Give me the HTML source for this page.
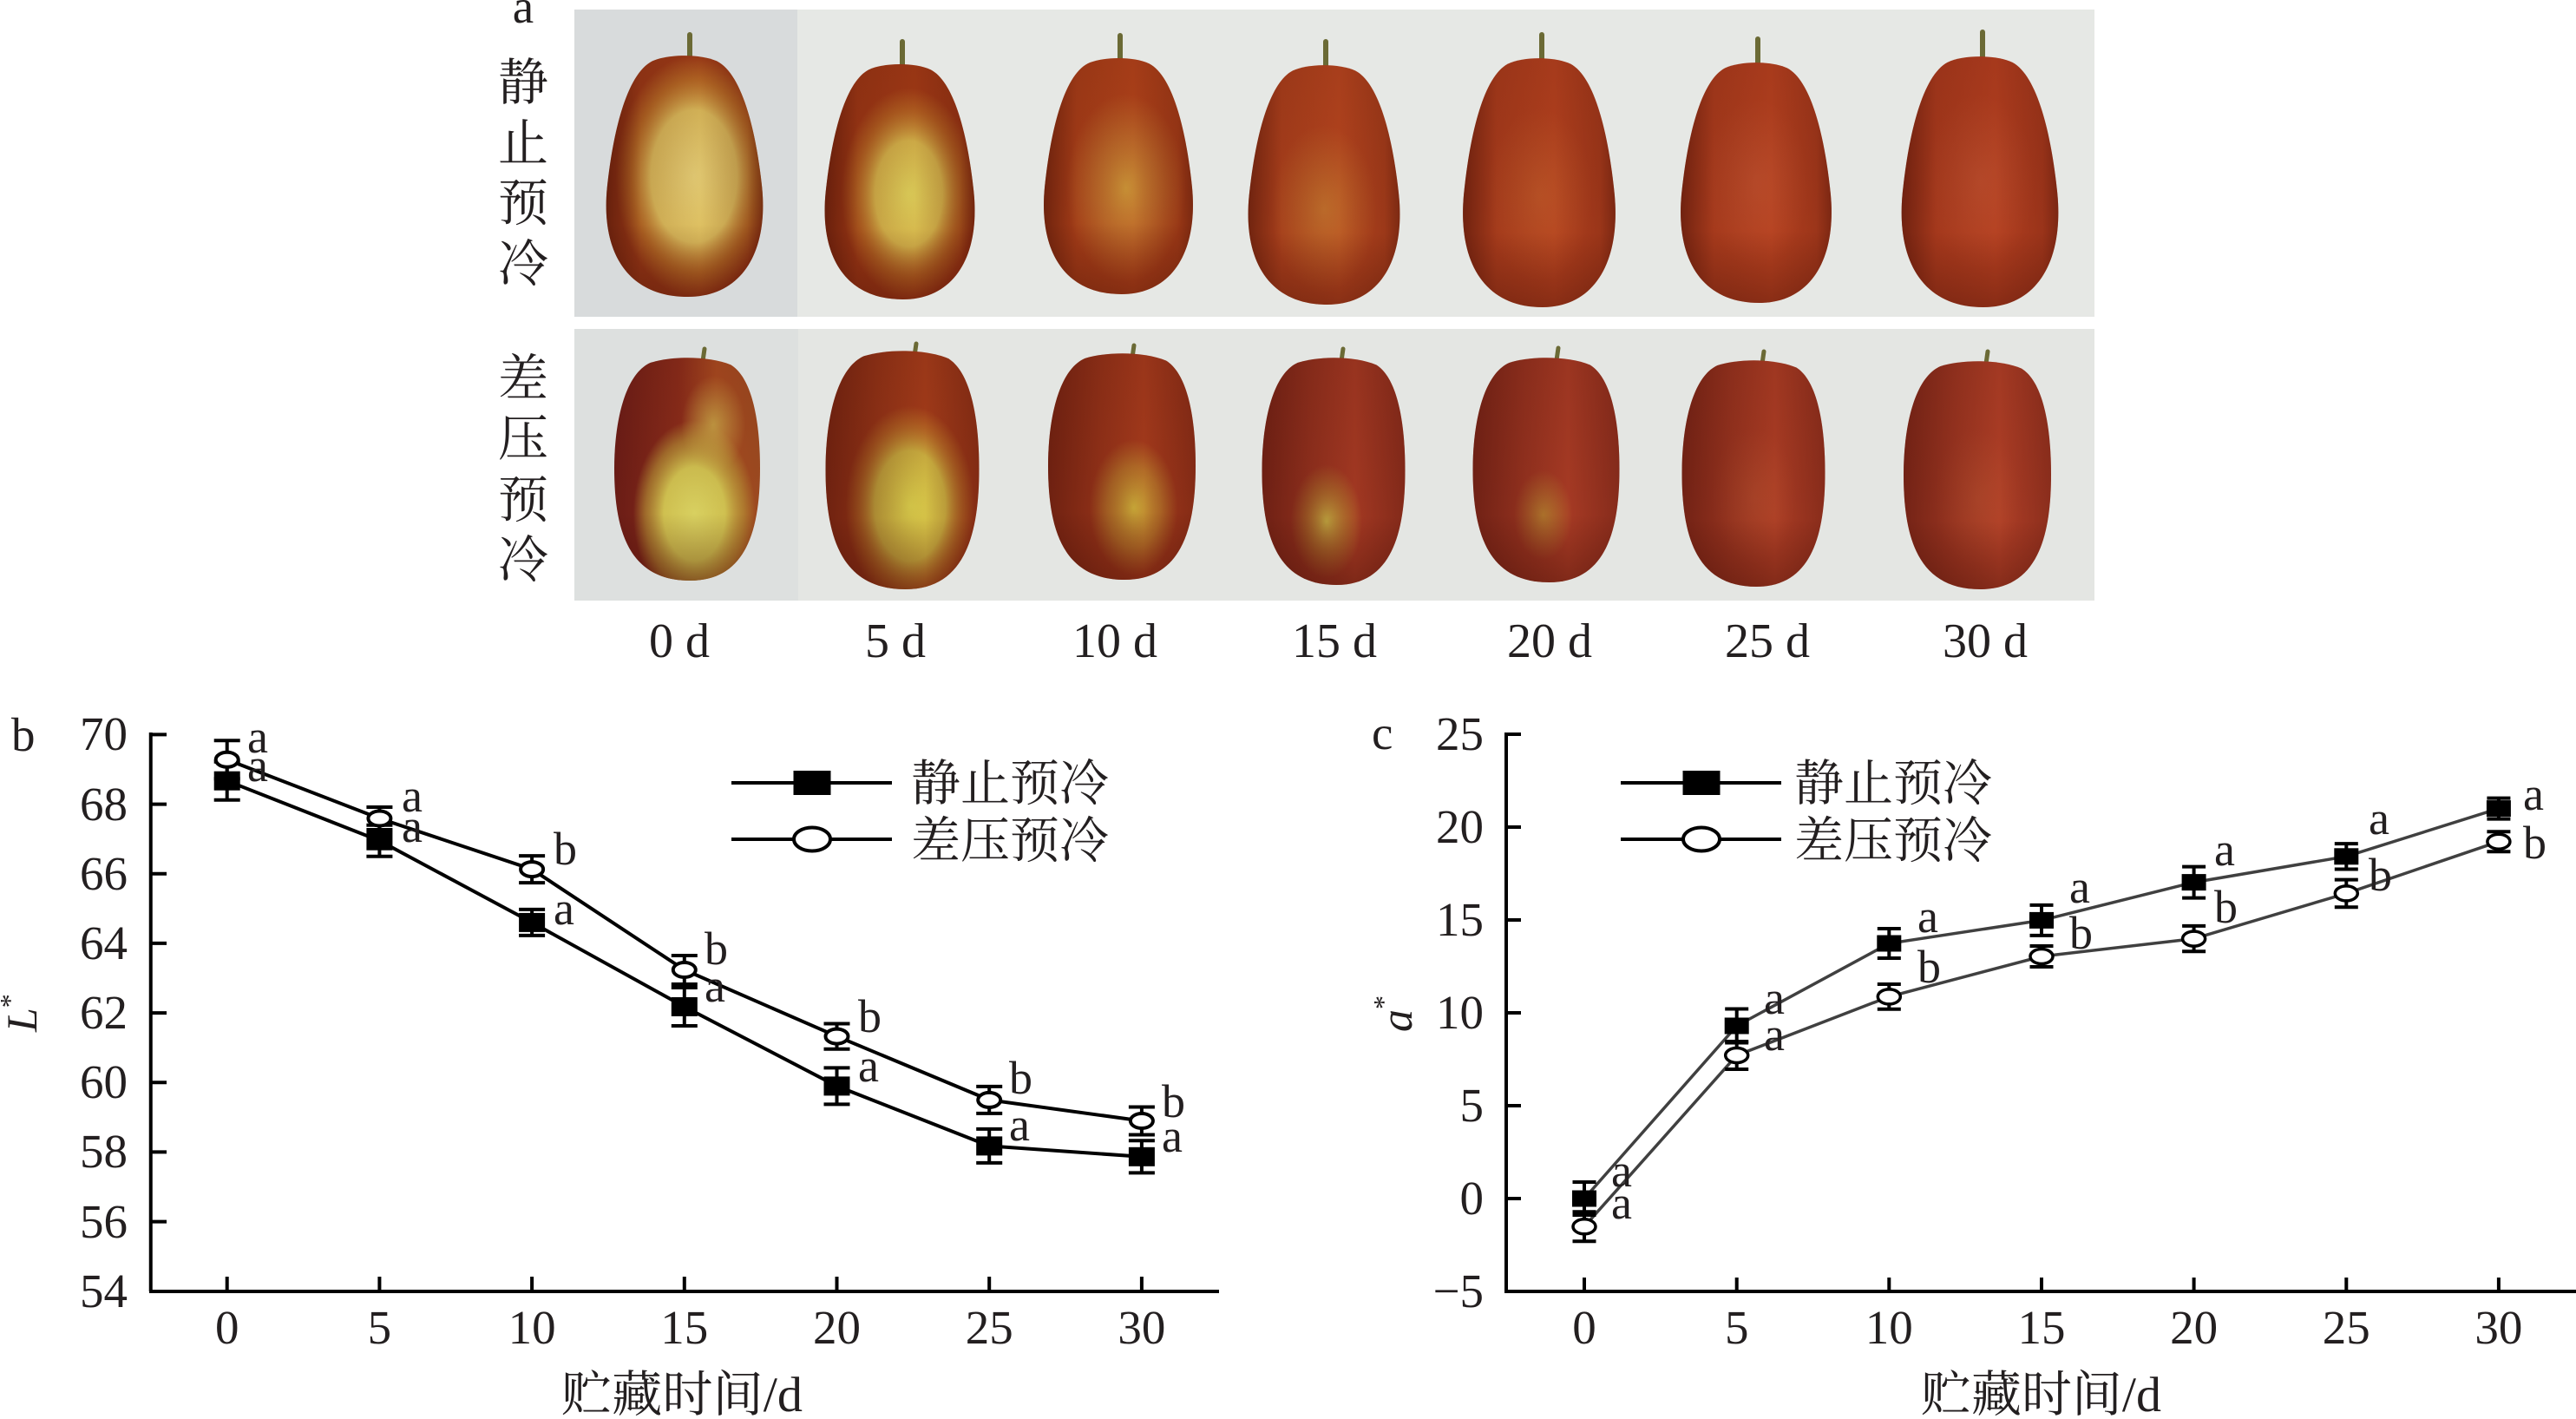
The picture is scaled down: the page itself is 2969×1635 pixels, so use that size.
<!DOCTYPE html>
<html>
<head>
<meta charset="utf-8">
<style>
html,body{margin:0;padding:0;background:#fff;}
svg{display:block;}
text{font-family:"Liberation Serif","Noto Serif CJK SC",serif;fill:#231f20;}
</style>
</head>
<body>
<svg xmlns="http://www.w3.org/2000/svg" width="2969" height="1635" viewBox="0 0 2969 1635">
<defs>
  <path id="pear" d="M -0.2 0.03 C -0.1 0 0.1 0 0.2 0.03 C 0.35 0.08 0.44 0.3 0.48 0.55 C 0.52 0.82 0.35 1 0.02 1 C -0.35 1 -0.52 0.82 -0.48 0.55 C -0.44 0.3 -0.35 0.08 -0.2 0.03 Z"/>
  <path id="oblong" d="M -0.25 0.03 C -0.1 0 0.15 0 0.3 0.04 C 0.45 0.1 0.5 0.3 0.5 0.5 C 0.5 0.78 0.4 1 0.02 1 C -0.4 1 -0.5 0.78 -0.5 0.5 C -0.5 0.3 -0.43 0.08 -0.25 0.03 Z"/>
  <linearGradient id="shade" x1="0" y1="0" x2="1" y2="0">
    <stop offset="0" stop-color="#3a0a04" stop-opacity="0.55"/>
    <stop offset="0.22" stop-color="#3a0a04" stop-opacity="0.12"/>
    <stop offset="0.6" stop-color="#3a0a04" stop-opacity="0"/>
    <stop offset="0.9" stop-color="#3a0a04" stop-opacity="0.2"/>
    <stop offset="1" stop-color="#3a0a04" stop-opacity="0.45"/>
  </linearGradient>
  <linearGradient id="vshade" x1="0" y1="0" x2="0" y2="1">
    <stop offset="0" stop-color="#3a0a04" stop-opacity="0.1"/>
    <stop offset="0.7" stop-color="#3a0a04" stop-opacity="0"/>
    <stop offset="1" stop-color="#3a0a04" stop-opacity="0.35"/>
  </linearGradient>
  <linearGradient id="shadeB" x1="0" y1="0" x2="1" y2="0">
    <stop offset="0" stop-color="#3a0806" stop-opacity="0.5"/>
    <stop offset="0.35" stop-color="#3a0806" stop-opacity="0.2"/>
    <stop offset="0.65" stop-color="#3a0806" stop-opacity="0"/>
    <stop offset="1" stop-color="#3a0806" stop-opacity="0.3"/>
  </linearGradient>
  <radialGradient id="pt0" cx="0.56" cy="0.5" r="0.5">
    <stop offset="0" stop-color="#e4cc74"/>
    <stop offset="0.55" stop-color="#dcbc5c"/>
    <stop offset="0.8" stop-color="#c8882e" stop-opacity="0.6"/>
    <stop offset="1" stop-color="#c8882e" stop-opacity="0"/>
  </radialGradient>
  <radialGradient id="pt1" cx="0.56" cy="0.55" r="0.45">
    <stop offset="0" stop-color="#dccc58"/>
    <stop offset="0.5" stop-color="#d4b24a"/>
    <stop offset="0.8" stop-color="#c07a28" stop-opacity="0.55"/>
    <stop offset="1" stop-color="#c07a28" stop-opacity="0"/>
  </radialGradient>
  <radialGradient id="pt2" cx="0.55" cy="0.55" r="0.4">
    <stop offset="0" stop-color="#d0a23c" stop-opacity="0.85"/>
    <stop offset="0.5" stop-color="#c68434" stop-opacity="0.6"/>
    <stop offset="1" stop-color="#c68434" stop-opacity="0"/>
  </radialGradient>
  <radialGradient id="pt3" cx="0.5" cy="0.6" r="0.35">
    <stop offset="0" stop-color="#c88a34" stop-opacity="0.6"/>
    <stop offset="1" stop-color="#c88a34" stop-opacity="0"/>
  </radialGradient>
  <radialGradient id="pt4" cx="0.5" cy="0.55" r="0.35">
    <stop offset="0" stop-color="#c86a30" stop-opacity="0.45"/>
    <stop offset="1" stop-color="#c86a30" stop-opacity="0"/>
  </radialGradient>
  <radialGradient id="pt5" cx="0.5" cy="0.5" r="0.35">
    <stop offset="0" stop-color="#cc6440" stop-opacity="0.35"/>
    <stop offset="1" stop-color="#cc6440" stop-opacity="0"/>
  </radialGradient>
  <linearGradient id="bb0" x1="0" y1="0" x2="1" y2="0">
    <stop offset="0" stop-color="#6a1c16"/>
    <stop offset="0.45" stop-color="#8a2c1a"/>
    <stop offset="0.7" stop-color="#a84a20"/>
    <stop offset="1" stop-color="#9c4a20"/>
  </linearGradient>
  <radialGradient id="pb0" cx="0.55" cy="0.7" r="0.42">
    <stop offset="0" stop-color="#d8d060"/>
    <stop offset="0.5" stop-color="#cfc050"/>
    <stop offset="0.8" stop-color="#b89a38" stop-opacity="0.6"/>
    <stop offset="1" stop-color="#b89a38" stop-opacity="0"/>
  </radialGradient>
  <radialGradient id="pb0b" cx="0.68" cy="0.3" r="0.22">
    <stop offset="0" stop-color="#c8a848" stop-opacity="0.85"/>
    <stop offset="1" stop-color="#c8a848" stop-opacity="0"/>
  </radialGradient>
  <radialGradient id="pb1" cx="0.55" cy="0.65" r="0.42">
    <stop offset="0" stop-color="#dcd04c"/>
    <stop offset="0.55" stop-color="#ccb040"/>
    <stop offset="0.85" stop-color="#c07a28" stop-opacity="0.5"/>
    <stop offset="1" stop-color="#c07a28" stop-opacity="0"/>
  </radialGradient>
  <radialGradient id="pb2" cx="0.58" cy="0.68" r="0.3">
    <stop offset="0" stop-color="#d0b83c" stop-opacity="0.9"/>
    <stop offset="0.6" stop-color="#c09030" stop-opacity="0.6"/>
    <stop offset="1" stop-color="#c09030" stop-opacity="0"/>
  </radialGradient>
  <radialGradient id="pb3" cx="0.45" cy="0.72" r="0.25">
    <stop offset="0" stop-color="#d0c048" stop-opacity="0.9"/>
    <stop offset="0.6" stop-color="#b88a30" stop-opacity="0.5"/>
    <stop offset="1" stop-color="#b88a30" stop-opacity="0"/>
  </radialGradient>
  <radialGradient id="pb4" cx="0.48" cy="0.7" r="0.2">
    <stop offset="0" stop-color="#c09a34" stop-opacity="0.7"/>
    <stop offset="1" stop-color="#c09a34" stop-opacity="0"/>
  </radialGradient>
  <radialGradient id="pb5" cx="0.5" cy="0.6" r="0.3">
    <stop offset="0" stop-color="#c05a34" stop-opacity="0.4"/>
    <stop offset="1" stop-color="#c05a34" stop-opacity="0"/>
  </radialGradient>
</defs>

<!-- ===== Photo panel ===== -->
<rect x="662" y="11" width="1752" height="354" fill="#e6e8e5"/>
<rect x="662" y="11" width="257" height="354" fill="#d8dbdc"/>
<rect x="662" y="379" width="1752" height="313" fill="#e4e6e3"/>
<rect x="662" y="379" width="258" height="313" fill="#dde0df"/>

<g stroke="#6b6a35" stroke-width="6" stroke-linecap="round">
  <line x1="795" y1="40" x2="795" y2="68"/>
  <line x1="1040" y1="48" x2="1040" y2="77"/>
  <line x1="1291" y1="41" x2="1291" y2="70"/>
  <line x1="1528" y1="48" x2="1528" y2="78"/>
  <line x1="1777" y1="40" x2="1777" y2="70"/>
  <line x1="2026" y1="45" x2="2026" y2="75"/>
  <line x1="2285" y1="37" x2="2285" y2="68"/>
</g>
<g transform="translate(789,62) scale(186,280)">
  <use href="#pear" fill="#a03c18"/><use href="#pear" fill="url(#pt0)"/><use href="#pear" fill="url(#shade)"/><use href="#pear" fill="url(#vshade)"/>
</g>
<g transform="translate(1037,72) scale(178,273)">
  <use href="#pear" fill="#a23a16"/><use href="#pear" fill="url(#pt1)"/><use href="#pear" fill="url(#shade)"/><use href="#pear" fill="url(#vshade)"/>
</g>
<g transform="translate(1289,65) scale(177,274)">
  <use href="#pear" fill="#b0421a"/><use href="#pear" fill="url(#pt2)"/><use href="#pear" fill="url(#shade)"/><use href="#pear" fill="url(#vshade)"/>
</g>
<g transform="translate(1526,73) scale(180,278)">
  <use href="#pear" fill="#b4441e"/><use href="#pear" fill="url(#pt3)"/><use href="#pear" fill="url(#shade)"/><use href="#pear" fill="url(#vshade)"/>
</g>
<g transform="translate(1774,65) scale(181,289)">
  <use href="#pear" fill="#b2401e"/><use href="#pear" fill="url(#pt4)"/><use href="#pear" fill="url(#shade)"/><use href="#pear" fill="url(#vshade)"/>
</g>
<g transform="translate(2024,70) scale(179,279)">
  <use href="#pear" fill="#b4401f"/><use href="#pear" fill="url(#pt5)"/><use href="#pear" fill="url(#shade)"/><use href="#pear" fill="url(#vshade)"/>
</g>
<g transform="translate(2282,63) scale(186,291)">
  <use href="#pear" fill="#b23e1f"/><use href="#pear" fill="url(#pt5)"/><use href="#pear" fill="url(#shade)"/><use href="#pear" fill="url(#vshade)"/>
</g>

<g stroke="#6b6a35" stroke-width="5" stroke-linecap="round">
  <line x1="812" y1="402" x2="810" y2="416"/>
  <line x1="1056" y1="396" x2="1054" y2="410"/>
  <line x1="1307" y1="398" x2="1305" y2="412"/>
  <line x1="1548" y1="402" x2="1546" y2="416"/>
  <line x1="1796" y1="401" x2="1794" y2="415"/>
  <line x1="2033" y1="405" x2="2031" y2="419"/>
  <line x1="2291" y1="405" x2="2289" y2="419"/>
</g>
<g transform="translate(792,410) scale(168,259)">
  <use href="#oblong" fill="url(#bb0)"/><use href="#oblong" fill="url(#pb0)"/><use href="#oblong" fill="url(#pb0b)"/><use href="#oblong" fill="url(#vshade)"/>
</g>
<g transform="translate(1040,402) scale(177,277)">
  <use href="#oblong" fill="#a43c1a"/><use href="#oblong" fill="url(#pb1)"/><use href="#oblong" fill="url(#shadeB)"/><use href="#oblong" fill="url(#vshade)"/>
</g>
<g transform="translate(1293,405) scale(170,263)">
  <use href="#oblong" fill="#a43a1c"/><use href="#oblong" fill="url(#pb2)"/><use href="#oblong" fill="url(#shadeB)"/><use href="#oblong" fill="url(#vshade)"/>
</g>
<g transform="translate(1537,410) scale(165,264)">
  <use href="#oblong" fill="#a23822"/><use href="#oblong" fill="url(#pb3)"/><use href="#oblong" fill="url(#shadeB)"/><use href="#oblong" fill="url(#vshade)"/>
</g>
<g transform="translate(1782,410) scale(169,261)">
  <use href="#oblong" fill="#a63a24"/><use href="#oblong" fill="url(#pb4)"/><use href="#oblong" fill="url(#shadeB)"/><use href="#oblong" fill="url(#vshade)"/>
</g>
<g transform="translate(2021,413) scale(165,263)">
  <use href="#oblong" fill="#aa3c24"/><use href="#oblong" fill="url(#pb5)"/><use href="#oblong" fill="url(#shadeB)"/><use href="#oblong" fill="url(#vshade)"/>
</g>
<g transform="translate(2279,414) scale(170,265)">
  <use href="#oblong" fill="#ae3e26"/><use href="#oblong" fill="url(#pb5)"/><use href="#oblong" fill="url(#shadeB)"/><use href="#oblong" fill="url(#vshade)"/>
</g>

<text x="603" y="26" font-size="55" text-anchor="middle">a</text>
<g font-size="58" text-anchor="middle">
  <text x="603" y="115">静</text>
  <text x="603" y="185">止</text>
  <text x="603" y="254">预</text>
  <text x="603" y="324">冷</text>
  <text x="603" y="456">差</text>
  <text x="603" y="525">压</text>
  <text x="603" y="596">预</text>
  <text x="603" y="665">冷</text>
</g>
<g font-size="56" text-anchor="middle">
  <text x="783" y="757">0 d</text>
  <text x="1032" y="757">5 d</text>
  <text x="1285" y="757">10 d</text>
  <text x="1538" y="757">15 d</text>
  <text x="1786" y="757">20 d</text>
  <text x="2037" y="757">25 d</text>
  <text x="2288" y="757">30 d</text>
</g>

<!-- ===== Chart b ===== -->
<text x="13" y="865" font-size="55">b</text>
<g stroke="#000" stroke-width="4" fill="none">
  <path d="M173.75 844 V1488 M172 1488 H1405"/>
  <path d="M174 846.4 H192 M174 926.6 H192 M174 1006.8 H192 M174 1086.9 H192 M174 1167.1 H192 M174 1247.3 H192 M174 1327.4 H192 M174 1407.6 H192"/>
  <path d="M261.7 1488 V1471 M437.4 1488 V1471 M613.1 1488 V1471 M788.8 1488 V1471 M964.5 1488 V1471 M1140.2 1488 V1471 M1315.9 1488 V1471"/>
</g>
<g font-size="55" text-anchor="end">
  <text x="147" y="864">70</text>
  <text x="147" y="945">68</text>
  <text x="147" y="1025">66</text>
  <text x="147" y="1105">64</text>
  <text x="147" y="1185">62</text>
  <text x="147" y="1265">60</text>
  <text x="147" y="1345">58</text>
  <text x="147" y="1426">56</text>
  <text x="147" y="1506">54</text>
</g>
<g font-size="55" text-anchor="middle">
  <text x="261.7" y="1548">0</text>
  <text x="437.4" y="1548">5</text>
  <text x="613.1" y="1548">10</text>
  <text x="788.8" y="1548">15</text>
  <text x="964.5" y="1548">20</text>
  <text x="1140.2" y="1548">25</text>
  <text x="1315.9" y="1548">30</text>
</g>
<text x="647" y="1626" font-size="57" textLength="278" lengthAdjust="spacingAndGlyphs">贮藏时间/d</text>
<text transform="translate(42,1189) rotate(-90)" font-size="50"><tspan font-style="italic">L</tspan><tspan font-size="32" dy="-20">*</tspan></text>

<polyline fill="none" stroke="#000" stroke-width="4" points="261.7,899.7 437.4,968.7 613.1,1062.9 788.8,1160 964.5,1251.4 1140.2,1320.4 1315.9,1332.8"/>
<polyline fill="none" stroke="#000" stroke-width="4" points="261.7,875.3 437.4,943 613.1,1001.6 788.8,1117.5 964.5,1194.1 1140.2,1267.4 1315.9,1291.5"/>
<g stroke="#000" stroke-width="4" fill="none">
  <path d="M246.7 877.7 H276.7 M261.7 877.7 V921.7 M246.7 921.7 H276.7"/>
  <path d="M422.4 950.7 H452.4 M437.4 950.7 V986.7 M422.4 986.7 H452.4"/>
  <path d="M598.1 1047.9 H628.1 M613.1 1047.9 V1077.9 M598.1 1077.9 H628.1"/>
  <path d="M773.8 1138 H803.8 M788.8 1138 V1182 M773.8 1182 H803.8"/>
  <path d="M949.5 1230.4 H979.5 M964.5 1230.4 V1272.4 M949.5 1272.4 H979.5"/>
  <path d="M1125.2 1300.9 H1155.2 M1140.2 1300.9 V1339.9 M1125.2 1339.9 H1155.2"/>
  <path d="M1300.9 1314.2 H1330.9 M1315.9 1314.2 V1351.4 M1300.9 1351.4 H1330.9"/>
  <path d="M246.7 853.3 H276.7 M261.7 853.3 V897.3 M246.7 897.3 H276.7"/>
  <path d="M422.4 930 H452.4 M437.4 930 V956 M422.4 956 H452.4"/>
  <path d="M598.1 986.1 H628.1 M613.1 986.1 V1017.1 M598.1 1017.1 H628.1"/>
  <path d="M773.8 1101 H803.8 M788.8 1101 V1134 M773.8 1134 H803.8"/>
  <path d="M949.5 1179.5 H979.5 M964.5 1179.5 V1208.7 M949.5 1208.7 H979.5"/>
  <path d="M1125.2 1251.9 H1155.2 M1140.2 1251.9 V1282.9 M1125.2 1282.9 H1155.2"/>
  <path d="M1300.9 1275.5 H1330.9 M1315.9 1275.5 V1307.5 M1300.9 1307.5 H1330.9"/>
</g>
<g fill="#000">
  <rect x="246.7" y="888.7" width="30" height="22"/>
  <rect x="422.4" y="957.7" width="30" height="22"/>
  <rect x="598.1" y="1051.9" width="30" height="22"/>
  <rect x="773.8" y="1149" width="30" height="22"/>
  <rect x="949.5" y="1240.4" width="30" height="22"/>
  <rect x="1125.2" y="1309.4" width="30" height="22"/>
  <rect x="1300.9" y="1321.8" width="30" height="22"/>
</g>
<g fill="#fff" stroke="#000" stroke-width="4">
  <ellipse cx="261.7" cy="875.3" rx="13" ry="8.5"/>
  <ellipse cx="437.4" cy="943" rx="13" ry="8.5"/>
  <ellipse cx="613.1" cy="1001.6" rx="13" ry="8.5"/>
  <ellipse cx="788.8" cy="1117.5" rx="13" ry="8.5"/>
  <ellipse cx="964.5" cy="1194.1" rx="13" ry="8.5"/>
  <ellipse cx="1140.2" cy="1267.4" rx="13" ry="8.5"/>
  <ellipse cx="1315.9" cy="1291.5" rx="13" ry="8.5"/>
</g>
<g font-size="54">
  <text x="285" y="867">a</text>
  <text x="285" y="900">a</text>
  <text x="463" y="935">a</text>
  <text x="463" y="970">a</text>
  <text x="638" y="996">b</text>
  <text x="638" y="1065">a</text>
  <text x="812" y="1111">b</text>
  <text x="812" y="1154">a</text>
  <text x="989" y="1189">b</text>
  <text x="989" y="1246">a</text>
  <text x="1163" y="1260">b</text>
  <text x="1163" y="1314">a</text>
  <text x="1339" y="1287">b</text>
  <text x="1339" y="1327">a</text>
</g>
<g stroke="#000" stroke-width="4">
  <line x1="843" y1="902" x2="1028" y2="902"/>
  <line x1="843" y1="967" x2="1028" y2="967"/>
</g>
<rect x="914.5" y="888" width="43" height="28" fill="#000"/>
<ellipse cx="936" cy="967" rx="21" ry="13.5" fill="#fff" stroke="#000" stroke-width="4"/>
<text x="1050" y="922" font-size="57">静止预冷</text>
<text x="1050" y="988" font-size="57">差压预冷</text>

<!-- ===== Chart c ===== -->
<text x="1581" y="863" font-size="55">c</text>
<g stroke="#000" stroke-width="4" fill="none">
  <path d="M1736 844 V1488 M1734 1488 H2969"/>
  <path d="M1736 846 H1753 M1736 953 H1753 M1736 1060 H1753 M1736 1167 H1753 M1736 1274 H1753 M1736 1381 H1753"/>
  <path d="M1826 1488 V1472 M2001.7 1488 V1472 M2177.3 1488 V1472 M2353 1488 V1472 M2528.6 1488 V1472 M2704.3 1488 V1472 M2879.9 1488 V1472"/>
</g>
<g font-size="55" text-anchor="end">
  <text x="1710" y="864">25</text>
  <text x="1710" y="971">20</text>
  <text x="1710" y="1078">15</text>
  <text x="1710" y="1185">10</text>
  <text x="1710" y="1292">5</text>
  <text x="1710" y="1399">0</text>
  <text x="1710" y="1506">−5</text>
</g>
<g font-size="55" text-anchor="middle">
  <text x="1826" y="1548">0</text>
  <text x="2001.7" y="1548">5</text>
  <text x="2177.3" y="1548">10</text>
  <text x="2353" y="1548">15</text>
  <text x="2528.6" y="1548">20</text>
  <text x="2704.3" y="1548">25</text>
  <text x="2879.9" y="1548">30</text>
</g>
<text x="2214" y="1626" font-size="57" textLength="277" lengthAdjust="spacingAndGlyphs">贮藏时间/d</text>
<text transform="translate(1627,1189) rotate(-90)" font-size="52"><tspan font-style="italic">a</tspan><tspan font-size="32" dy="-22">*</tspan></text>

<polyline fill="none" stroke="#404040" stroke-width="3.5" points="1826,1381 2001.7,1182 2177.3,1087 2353,1060.4 2528.6,1016.6 2704.3,986.8 2879.9,931.6"/>
<polyline fill="none" stroke="#404040" stroke-width="3.5" points="1826,1413.3 2001.7,1216 2177.3,1148.4 2353,1102 2528.6,1081.6 2704.3,1029.4 2879.9,969.7"/>
<g stroke="#000" stroke-width="4" fill="none">
  <path d="M1812.5 1362 H1839.5 M1826 1362 V1400 M1812.5 1400 H1839.5"/>
  <path d="M1988.2 1162.5 H2015.2 M2001.7 1162.5 V1201.5 M1988.2 1201.5 H2015.2"/>
  <path d="M2163.8 1070 H2190.8 M2177.3 1070 V1104 M2163.8 1104 H2190.8"/>
  <path d="M2339.5 1042.9 H2366.5 M2353 1042.9 V1077.9 M2339.5 1077.9 H2366.5"/>
  <path d="M2515.1 998.6 H2542.1 M2528.6 998.6 V1034.6 M2515.1 1034.6 H2542.1"/>
  <path d="M2690.8 972.1 H2717.8 M2704.3 972.1 V1001.5 M2690.8 1001.5 H2717.8"/>
  <path d="M2866.4 919.6 H2893.4 M2879.9 919.6 V943.6 M2866.4 943.6 H2893.4"/>
  <path d="M1812.5 1396.3 H1839.5 M1826 1396.3 V1430.3 M1812.5 1430.3 H1839.5"/>
  <path d="M1988.2 1200 H2015.2 M2001.7 1200 V1232 M1988.2 1232 H2015.2"/>
  <path d="M2163.8 1134 H2190.8 M2177.3 1134 V1162.8 M2163.8 1162.8 H2190.8"/>
  <path d="M2339.5 1090 H2366.5 M2353 1090 V1114 M2339.5 1114 H2366.5"/>
  <path d="M2515.1 1066.9 H2542.1 M2528.6 1066.9 V1096.3 M2515.1 1096.3 H2542.1"/>
  <path d="M2690.8 1013.6 H2717.8 M2704.3 1013.6 V1045.2 M2690.8 1045.2 H2717.8"/>
  <path d="M2866.4 958.2 H2893.4 M2879.9 958.2 V981.2 M2866.4 981.2 H2893.4"/>
</g>
<g fill="#000">
  <rect x="1812" y="1371.5" width="28" height="19"/>
  <rect x="1987.7" y="1172.5" width="28" height="19"/>
  <rect x="2163.3" y="1077.5" width="28" height="19"/>
  <rect x="2339" y="1050.9" width="28" height="19"/>
  <rect x="2514.6" y="1007.1" width="28" height="19"/>
  <rect x="2690.3" y="977.3" width="28" height="19"/>
  <rect x="2865.9" y="922.1" width="28" height="19"/>
</g>
<g fill="#fff" stroke="#000" stroke-width="3.5">
  <ellipse cx="1826" cy="1413.3" rx="13" ry="8.5"/>
  <ellipse cx="2001.7" cy="1216" rx="13" ry="8.5"/>
  <ellipse cx="2177.3" cy="1148.4" rx="13" ry="8.5"/>
  <ellipse cx="2353" cy="1102" rx="13" ry="8.5"/>
  <ellipse cx="2528.6" cy="1081.6" rx="13" ry="8.5"/>
  <ellipse cx="2704.3" cy="1029.4" rx="13" ry="8.5"/>
  <ellipse cx="2879.9" cy="969.7" rx="13" ry="8.5"/>
</g>
<g font-size="54">
  <text x="1857" y="1367">a</text>
  <text x="1857" y="1404">a</text>
  <text x="2033" y="1168">a</text>
  <text x="2033" y="1210">a</text>
  <text x="2210" y="1074">a</text>
  <text x="2210" y="1132">b</text>
  <text x="2385" y="1040">a</text>
  <text x="2385" y="1093">b</text>
  <text x="2552" y="997">a</text>
  <text x="2552" y="1063">b</text>
  <text x="2730" y="961">a</text>
  <text x="2730" y="1026">b</text>
  <text x="2908" y="933">a</text>
  <text x="2908" y="989">b</text>
</g>
<g stroke="#000" stroke-width="4">
  <line x1="1868" y1="902" x2="2053" y2="902"/>
  <line x1="1868" y1="967" x2="2053" y2="967"/>
</g>
<rect x="1939.5" y="888" width="43" height="28" fill="#000"/>
<ellipse cx="1961" cy="967" rx="21" ry="13.5" fill="#fff" stroke="#000" stroke-width="4"/>
<text x="2068" y="922" font-size="57">静止预冷</text>
<text x="2068" y="988" font-size="57">差压预冷</text>
</svg>
</body>
</html>
